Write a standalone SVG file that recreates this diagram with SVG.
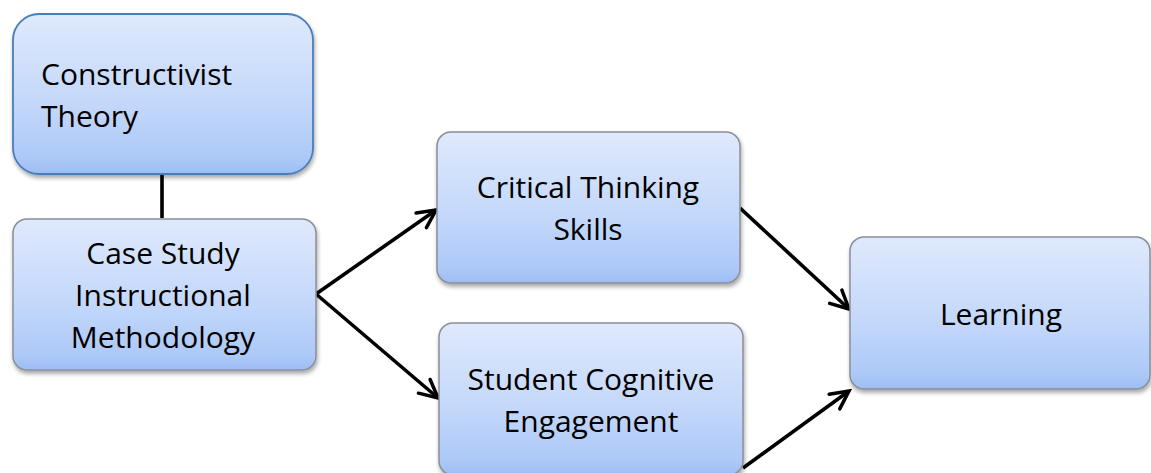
<svg xmlns="http://www.w3.org/2000/svg" width="1151" height="473" viewBox="0 0 1151 473">
  <defs>
    <linearGradient id="boxFill" x1="0" y1="0" x2="0" y2="1">
      <stop offset="0" stop-color="#dfe9fc"/>
      <stop offset="0.55" stop-color="#c4d8fa"/>
      <stop offset="0.9" stop-color="#adc9f7"/>
      <stop offset="1" stop-color="#9dbdf4"/>
    </linearGradient>
    <filter id="shadow" x="-10%" y="-10%" width="120%" height="130%">
      <feGaussianBlur in="SourceAlpha" stdDeviation="2"/>
      <feOffset dx="1" dy="3" result="b"/>
      <feComponentTransfer><feFuncA type="linear" slope="0.35"/></feComponentTransfer>
      <feMerge><feMergeNode/><feMergeNode in="SourceGraphic"/></feMerge>
    </filter>
    <marker id="arrow" viewBox="0 0 24 24" refX="21" refY="12" markerWidth="24" markerHeight="24" markerUnits="userSpaceOnUse" orient="auto">
      <path d="M3 3 L21 12 L3 21" fill="none" stroke="#000" stroke-width="3.5" stroke-linecap="round" stroke-linejoin="miter"/>
    </marker>
  </defs>
  <style>
    .box { fill: url(#boxFill); stroke: #8a8f99; stroke-width: 1.5; filter: url(#shadow); }
    .box.theory { stroke: #4a7ebb; stroke-width: 1.8; }
    .label { font-family: "Open Sans", "Liberation Sans", Arial, sans-serif; font-size: 30px; fill: #000; }
    .mid { text-anchor: middle; }
    .edge { fill: none; stroke: #000; stroke-width: 3.6; }
  </style>

  <rect width="1151" height="473" fill="#ffffff"/>

  <g id="connectors">
    <line class="edge" x1="162" y1="175" x2="162" y2="218"/>
    <line class="edge" x1="316" y1="294" x2="436" y2="210" marker-end="url(#arrow)"/>
    <line class="edge" x1="316" y1="294" x2="438" y2="398" marker-end="url(#arrow)"/>
    <line class="edge" x1="740" y1="208" x2="849" y2="309" marker-end="url(#arrow)"/>
    <line class="edge" x1="743" y1="468" x2="849" y2="391" marker-end="url(#arrow)"/>
  </g>

  <g id="node-constructivist-theory">
    <rect class="box theory" x="13" y="14" width="300" height="160" rx="26" ry="26"/>
    <text class="label" x="41" y="85">Constructivist</text>
    <text class="label" x="41" y="127">Theory</text>
  </g>

  <g id="node-case-study">
    <rect class="box" x="13" y="219" width="303" height="151" rx="14" ry="14"/>
    <text class="label mid" x="163" y="264">Case Study</text>
    <text class="label mid" x="163" y="306">Instructional</text>
    <text class="label mid" x="163" y="348">Methodology</text>
  </g>

  <g id="node-critical-thinking">
    <rect class="box" x="437" y="132" width="303" height="151" rx="14" ry="14"/>
    <text class="label mid" x="588" y="198">Critical Thinking</text>
    <text class="label mid" x="588" y="240">Skills</text>
  </g>

  <g id="node-student-engagement">
    <rect class="box" x="439" y="323" width="304" height="152" rx="14" ry="14"/>
    <text class="label mid" x="591" y="390">Student Cognitive</text>
    <text class="label mid" x="591" y="432">Engagement</text>
  </g>

  <g id="node-learning">
    <rect class="box" x="850" y="237" width="300" height="152" rx="14" ry="14"/>
    <text class="label mid" x="1001" y="325">Learning</text>
  </g>
</svg>
